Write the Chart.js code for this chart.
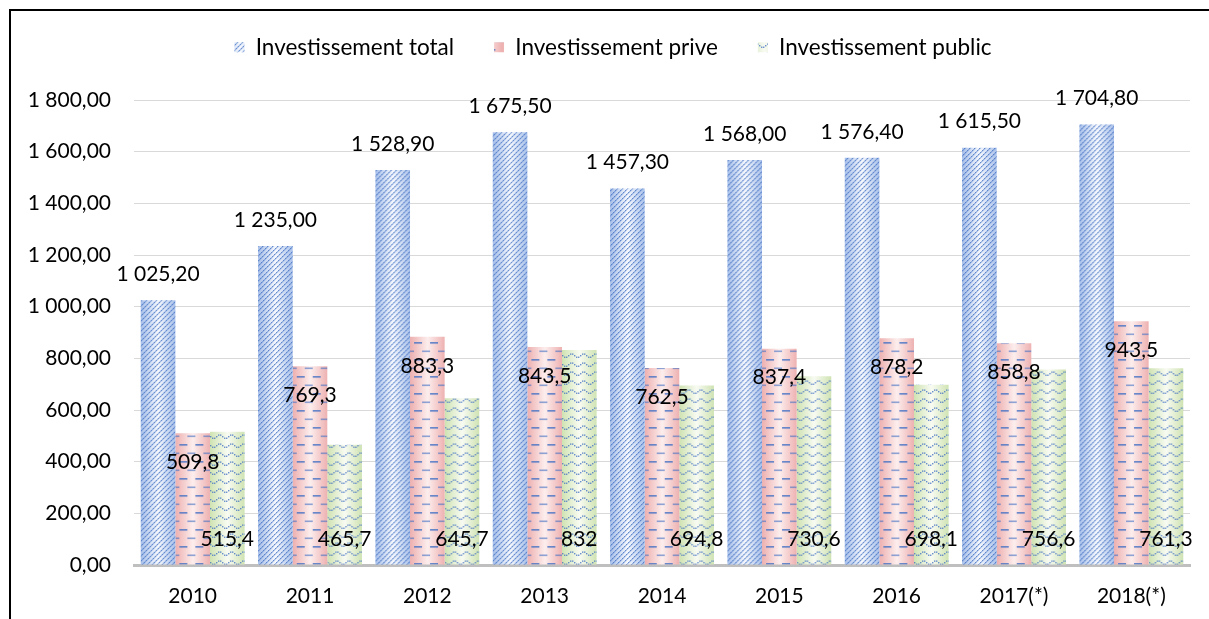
<!DOCTYPE html>
<html><head><meta charset="utf-8">
<script src="https://cdn.jsdelivr.net/npm/chart.js@4"></script>
<style>
html,body{margin:0;padding:0;background:#fff;}
#wrap{position:relative;width:1209px;height:619px;overflow:hidden;}
#frame{position:absolute;left:9px;top:9px;width:1300px;height:700px;border-top:2px solid #000;border-left:2px solid #000;pointer-events:none;}
canvas{position:absolute;left:0;top:0;}
</style></head><body>
<div id="wrap"><canvas id="c" width="1209" height="619"></canvas><div id="frame"></div></div>
<script>
const categories = ['2010','2011','2012','2013','2014','2015','2016','2017(*)','2018(*)'];
const totalInvest   = [1025.2, 1235.0, 1528.9, 1675.5, 1457.3, 1568.0, 1576.4, 1615.5, 1704.8];
const privateInvest = [509.8, 769.3, 883.3, 843.5, 762.5, 837.4, 878.2, 858.8, 943.5];
const publicInvest  = [515.4, 465.7, 645.7, 832, 694.8, 730.6, 698.1, 756.6, 761.3];
const seriesNames = ['Investissement total','Investissement prive','Investissement public'];
const yMin = 0, yMax = 1800, yStep = 200;

const FONT = 'Lato';
const CAT_PCT = 0.885;

function frNumber(v, decimals){
  let s = (decimals === null) ? String(v) : v.toFixed(decimals);
  let [intPart, dec] = s.split('.');
  intPart = intPart.replace(/\B(?=(\d{3})+(?!\d))/g, ' ');
  return dec !== undefined ? intPart + ',' + dec : intPart;
}

function makeTile(kind, bw){
  const W = Math.max(2, Math.round(bw));
  const c = document.createElement('canvas');
  const g = c.getContext('2d');
  let H, e, m;
  if (kind === 0){ H = 10; e = '#a8c0ea'; m = '#f6f9fe'; }
  else if (kind === 1){ H = 17; e = '#eeb0b0'; m = '#fdeeee'; }
  else { H = 9; e = '#cfe3b2'; m = '#f8fbf2'; }
  c.width = W; c.height = H;
  const grad = g.createLinearGradient(0,0,W,0);
  grad.addColorStop(0, e); grad.addColorStop(0.5, m); grad.addColorStop(1, e);
  g.fillStyle = grad; g.fillRect(0,0,W,H);
  g.fillStyle = '#4472c4';
  if (kind === 0){
    for (let y=0;y<H;y++) for (let x=0;x<W;x++){
      const r = (x+y)%5;
      if (r===0){ g.globalAlpha = (y%2===0)?0.92:0.55; g.fillRect(x,y,1,1); }
      else if (r===1){ g.globalAlpha = 0.25; g.fillRect(x,y,1,1); }
    }
  } else if (kind === 1){
    const rows = [[2,4,0.85],[10.5,12,0.6]];
    rows.forEach(([yy,off,a])=>{
      g.globalAlpha = a;
      for (let x=-16+off; x<W; x+=16) g.fillRect(x, yy, 8, 1.6);
    });
  } else {
    g.globalAlpha = 0.78;
    for (let x=0;x<W;x+=2){
      const yy = 4 + 1.8*Math.sin(2*Math.PI*x/12);
      g.fillRect(x, yy, 1.4, 1.4);
    }
  }
  g.globalAlpha = 1;
  return c;
}
const FALLBACK = ['#c5d6ef','#f2c6c6','#dcebc7'];
function barFill(kind){
  return function(ctx){
    const chart = ctx.chart;
    const xs = chart.scales && chart.scales.x;
    if (!xs || ctx.dataIndex === undefined || !chart.chartArea) return FALLBACK[kind];
    const step = xs.getPixelForValue(1) - xs.getPixelForValue(0);
    const group = step * CAT_PCT;
    const bw = group / 3;
    const left = xs.getPixelForValue(ctx.dataIndex) - group/2 + bw*kind;
    if (!isFinite(left) || !isFinite(bw) || bw < 2) return FALLBACK[kind];
    const pat = chart.ctx.createPattern(makeTile(kind, bw), 'repeat');
    pat.setTransform(new DOMMatrix([1,0,0,1,left,0]));
    return pat;
  };
}

const valueLabels = {
  id: 'valueLabels',
  afterDatasetsDraw(chart){
    const ctx = chart.ctx;
    ctx.save();
    ctx.font = '21px ' + FONT;
    ctx.fillStyle = '#000';
    ctx.textAlign = 'center';
    ctx.textBaseline = 'middle';
    chart.data.datasets.forEach((ds, di) => {
      const meta = chart.getDatasetMeta(di);
      meta.data.forEach((bar, i) => {
        const v = ds.data[i];
        let y, txt;
        if (di === 0){ y = bar.y - 26; txt = frNumber(v, 2); }
        else if (di === 1){ y = bar.y + 29; txt = frNumber(v, null); }
        else { y = bar.base - 25; txt = frNumber(v, null); }
        ctx.fillText(txt, bar.x, y);
      });
    });
    ctx.restore();
  }
};
const LEGEND_SHIFT_X = 12, LEGEND_SHIFT_Y = -4;
const legendTweak = {
  id: 'legendTweak',
  afterInit(chart){
    const lg = chart.legend;
    if (!lg || lg._tweaked) return;
    const origFit = lg.fit;
    lg.fit = function(){ origFit.call(this); this.height = 100; };
    const origDraw = lg.draw;
    lg.draw = function(){
      const c = this.ctx;
      c.save(); c.translate(LEGEND_SHIFT_X, LEGEND_SHIFT_Y);
      origDraw.call(this);
      c.restore();
    };
    lg._tweaked = true;
  }
};

function draw(){
  Chart.defaults.font.family = FONT;
  Chart.defaults.font.size = 21;
  Chart.defaults.color = '#000';
  const chart = new Chart(document.getElementById('c'), {
    type: 'bar',
    data: {
      labels: categories,
      datasets: [
        { label: seriesNames[0], data: totalInvest, backgroundColor: barFill(0), borderWidth: 0 },
        { label: seriesNames[1], data: privateInvest, backgroundColor: barFill(1), borderWidth: 0 },
        { label: seriesNames[2], data: publicInvest, backgroundColor: barFill(2), borderWidth: 0 }
      ]
    },
    options: {
      responsive: false,
      animation: false,
      devicePixelRatio: 1,
      datasets: { bar: { categoryPercentage: CAT_PCT, barPercentage: 1 } },
      layout: { padding: { left: 12, right: 19, top: 0, bottom: 0 } },
      plugins: {
        legend: {
          position: 'top',
          labels: { boxWidth: 10, boxHeight: 10, padding: 40, color: '#000', font: { size: 22.5 } }
        },
        tooltip: { enabled: false }
      },
      scales: {
        x: {
          grid: { display: false, drawTicks: false },
          border: { display: true, color: '#bfbfbf', width: 3 },
          ticks: { padding: 19, color: '#000' },
          afterFit(s){ s.height = 54; }
        },
        y: {
          min: yMin, max: yMax,
          grid: { color: '#d9d9d9', lineWidth: 1, drawTicks: false },
          border: { display: false },
          ticks: { stepSize: yStep, padding: 23, color: '#000', callback: v => frNumber(v, 2) },
          afterFit(s){ s.width = 122; }
        }
      }
    },
    plugins: [valueLabels, legendTweak]
  });
  chart.update();
}
if (document.fonts && document.fonts.load) {
  document.fonts.load('21px ' + FONT).then(draw, draw);
} else draw();
</script>
</body></html>
